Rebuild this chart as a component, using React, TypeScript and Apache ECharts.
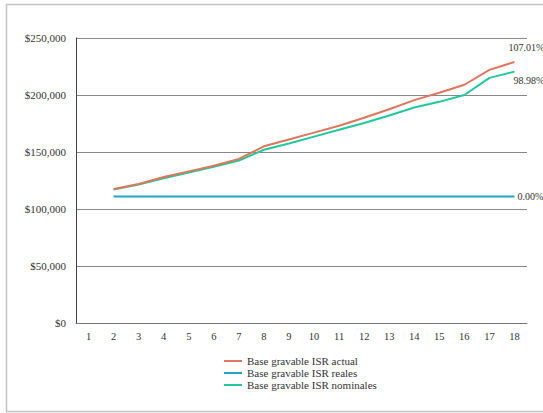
import React, { useEffect, useRef } from "react";
import * as echarts from "echarts";

const categories = ["1","2","3","4","5","6","7","8","9","10","11","12","13","14","15","16","17","18"];
const actual = [null,117500,122000,128000,133000,138000,144000,155000,161000,167000,173000,180000,187500,195500,202000,209000,222000,229000];
const reales = [null,111000,111000,111000,111000,111000,111000,111000,111000,111000,111000,111000,111000,111000,111000,111000,111000,111000];
const nominales = [null,117000,121500,127000,132000,137000,142500,152000,157500,163500,169500,175500,182000,189000,194000,200000,215000,220500];
const seriesNames = ["Base gravable ISR actual","Base gravable ISR reales","Base gravable ISR nominales"];
const endLabels = ["107.01%","0.00%","98.98%"];
const yTicks = { min: 0, max: 250000, interval: 50000 };

const FONT = "Liberation Serif";

export default function App() {
  const ref = useRef<HTMLDivElement>(null);
  useEffect(() => {
    const chart = echarts.init(ref.current!, null, { renderer: "svg" });
    const fmt = (v: number) => "$" + v.toLocaleString("en-US");
    chart.setOption({
      animation: false,
      backgroundColor: "#ffffff",
      textStyle: { fontFamily: FONT },
      graphic: [
        {
          type: "rect",
          shape: { x: 6.5, y: 4.5, width: 600, height: 407 },
          style: { fill: "none", stroke: "#c4c4c4", lineWidth: 1.5 },
          silent: true,
        },
      ],
      grid: { left: 76, right: 16, top: 38, bottom: 90 },
      legend: {
        orient: "vertical",
        left: 219,
        top: 350,
        itemGap: 0,
        itemWidth: 18,
        itemHeight: 2,
        icon: "rect",
        textStyle: { fontFamily: FONT, fontSize: 11, lineHeight: 12, color: "#333" },
        data: seriesNames,
      },
      xAxis: {
        type: "category",
        data: categories,
        boundaryGap: true,
        axisLine: { show: true, lineStyle: { color: "#777", width: 1 } },
        axisTick: { show: false },
        axisLabel: { fontFamily: FONT, fontSize: 10.5, color: "#333", margin: 8, interval: 0 },
        splitLine: { show: false },
      },
      yAxis: {
        type: "value",
        min: yTicks.min,
        max: yTicks.max,
        interval: yTicks.interval,
        axisLine: { show: true, lineStyle: { color: "#444", width: 1 } },
        axisTick: { show: false },
        axisLabel: { fontFamily: FONT, fontSize: 11, color: "#333", margin: 10, formatter: fmt },
        splitLine: { show: true, lineStyle: { color: "#888", width: 1 } },
      },
      series: [
        {
          name: seriesNames[0],
          type: "line",
          data: actual,
          symbol: "none",
          color: "#e2765a",
          lineStyle: { width: 2 },
          z: 3,
          endLabel: {
            show: true,
            formatter: endLabels[0],
            offset: [-14, -14],
            fontFamily: FONT,
            fontSize: 10,
            color: "#333",
          },
        },
        {
          name: seriesNames[1],
          type: "line",
          data: reales,
          symbol: "none",
          color: "#1ea6cc",
          lineStyle: { width: 2 },
          endLabel: {
            show: true,
            formatter: endLabels[1],
            distance: 3,
            fontFamily: FONT,
            fontSize: 10,
            color: "#333",
          },
        },
        {
          name: seriesNames[2],
          type: "line",
          data: nominales,
          symbol: "none",
          color: "#1fc99c",
          lineStyle: { width: 2 },
          z: 2,
          endLabel: {
            show: true,
            formatter: endLabels[2],
            offset: [-9, 9],
            fontFamily: FONT,
            fontSize: 10,
            color: "#333",
          },
        },
      ],
    });
    return () => chart.dispose();
  }, []);
  return (
    <div
      ref={ref}
      style={{ position: "fixed", left: 0, top: 0, width: 543, height: 413 }}
    />
  );
}
